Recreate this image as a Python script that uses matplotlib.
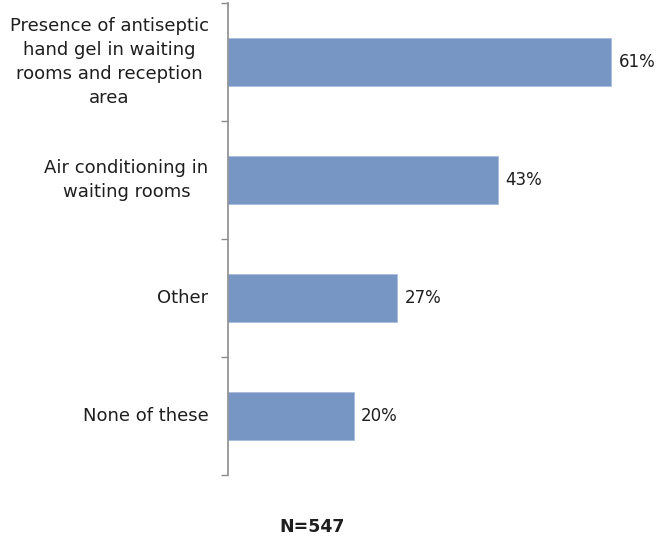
import matplotlib.pyplot as plt

# survey answers, shares in percent
categories = ['Presence of antiseptic\nhand gel in waiting\nrooms and reception\narea',
              'Air conditioning in\nwaiting rooms',
              'Other',
              'None of these']
values = [61, 43, 27, 20]
value_labels = ['61%', '43%', '27%', '20%']
base_note = 'N=547'

bar_color = '#7896C4'
text_color = '#1E1E1E'

fig = plt.figure(figsize=(6.57, 5.40), dpi=100)
ax = fig.add_axes([228 / 657, 1 - 475 / 540, 408 / 657, 472 / 540])

y = list(range(len(categories)))
ax.barh(y, values, height=0.40, color=bar_color, edgecolor='#A9BCDB', linewidth=0.6)
ax.set_xlim(0, 65)
ax.set_ylim(3.5, -0.5)

for i, v in enumerate(values):
    ax.text(v + 1.2, i, value_labels[i], va='center', ha='left', fontsize=12, color=text_color)

# category names sit to the left of the axis, centred between the separators
for i, c in enumerate(categories):
    ax.annotate(c, xy=(0, i), xycoords='data', xytext=(-14, 0), textcoords='offset points',
                ha='right', va='center', multialignment='center', fontsize=13,
                color=text_color, linespacing=1.45,
                annotation_clip=False)

for side in ['top', 'right', 'bottom']:
    ax.spines[side].set_visible(False)
ax.spines['left'].set_color('#8C8C8C')
ax.spines['left'].set_linewidth(1.2)
ax.set_xticks([])
ax.set_yticks([-0.5, 0.5, 1.5, 2.5, 3.5])
ax.set_yticklabels([])
ax.tick_params(axis='y', direction='out', length=5, width=1.0, color='#8C8C8C')

fig.text(312 / 657, 1 - 527 / 540, base_note, ha='center', va='center',
         fontsize=12.5, fontweight='bold', color=text_color)

fig.savefig('out.png', dpi=100)
